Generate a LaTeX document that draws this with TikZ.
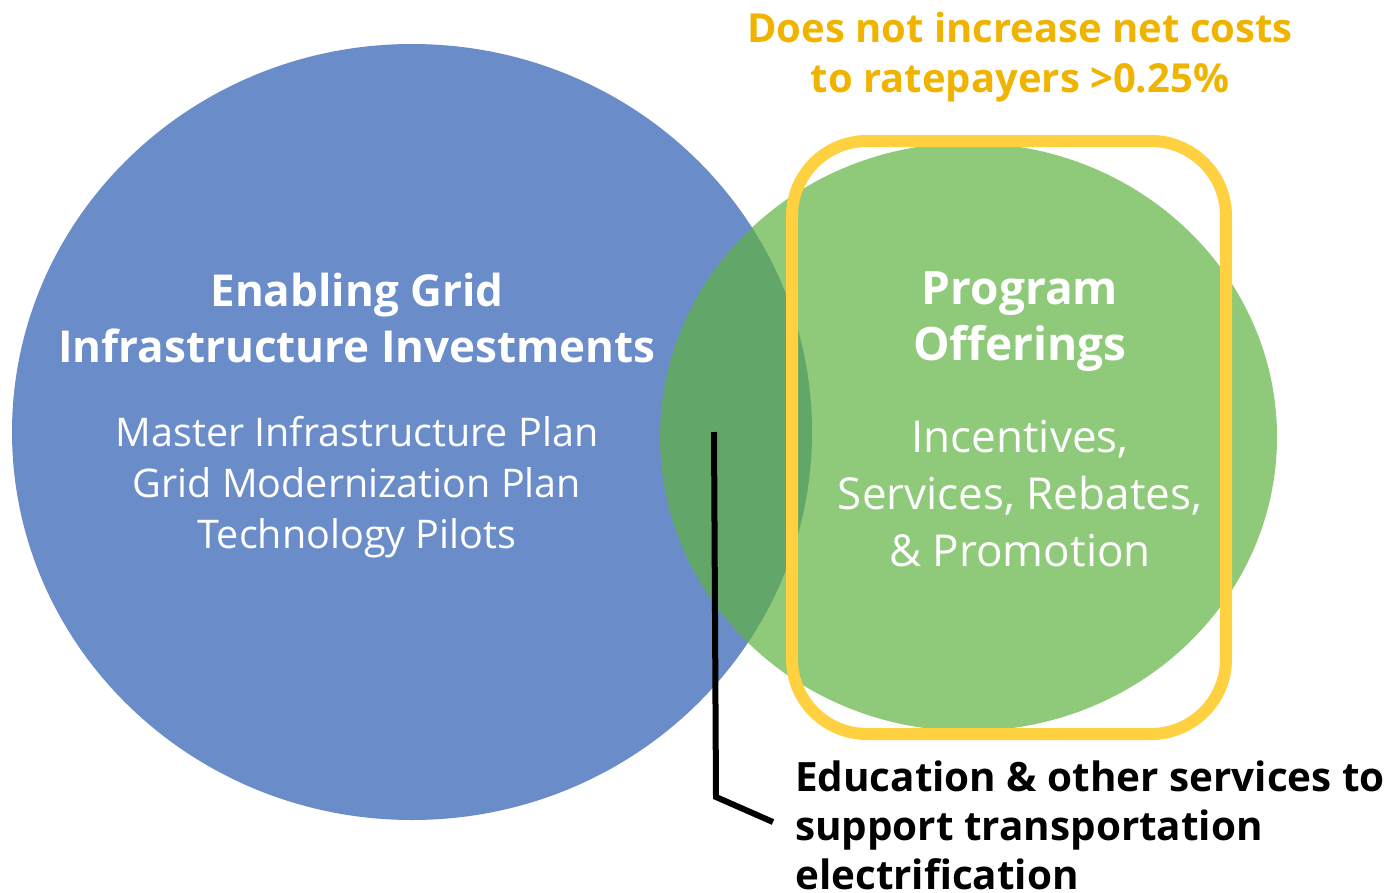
\documentclass[tikz,border=0pt]{standalone}
\usepackage{fontspec}
\setmainfont{Open Sans}
\definecolor{bluec}{RGB}{106,140,201}
\definecolor{greenc}{RGB}{95,178,65}
\definecolor{yellowc}{RGB}{255,208,64}
\definecolor{goldc}{RGB}{240,180,0}
\tikzset{
  bluecircle/.style={fill=bluec, draw=none},
  greencircle/.style={fill=greenc, fill opacity=0.7, draw=none},
  framebox/.style={draw=yellowc, line width=12pt, rounded corners=75pt},
  titletext/.style={text=white, align=center, font=\bfseries\fontsize{44}{56}\selectfont},
  bodytext/.style={text=white, align=center},
  goldtext/.style={text=goldc, align=center, font=\bfseries\fontsize{40}{50}\selectfont},
  notetext/.style={text=black, align=left, font=\bfseries\fontsize{40.4}{49}\selectfont, inner sep=0pt},
  leader/.style={draw=black, line width=6pt}
}
\begin{document}
\begin{tikzpicture}[x=1pt, y=-1pt]
\useasboundingbox (0,0) rectangle (1386,892);
% circles
\fill[bluecircle] (412,432) ellipse [x radius=400, y radius=388];
\fill[greencircle] (968.5,437) ellipse [x radius=308.5, y radius=294];
% yellow frame
\draw[framebox] (792,141) rectangle (1226,734);
% texts
\node[titletext] (gridtitle) at (357,318) {Enabling Grid\\Infrastructure Investments};
\node[bodytext, font=\fontsize{39.5}{51}\selectfont] (gridlist) at (357,487) {Master Infrastructure Plan\\Grid Modernization Plan\\Technology Pilots};
\node[titletext, font=\bfseries\fontsize{46}{56}\selectfont] (progtitle) at (1020,322) {Program\\Offerings};
\node[bodytext, font=\fontsize{44}{57}\selectfont] (proglist) at (1020,494) {Incentives,\\Services, Rebates,\\\& Promotion};
\node[goldtext] (costnote) at (1020,57.5) {Does not increase net costs\\to ratepayers >0.25\%};
\node[notetext, anchor=west] (edunote) at (795,825) {Education \& other services to\\support transportation\\electrification};
% leader line
\coordinate (overlap) at (714,432);
\coordinate (bend) at (716,797);
\coordinate (tip) at (773,822);
\draw[leader] (overlap) -- (bend) -- (tip);
\end{tikzpicture}
\end{document}
